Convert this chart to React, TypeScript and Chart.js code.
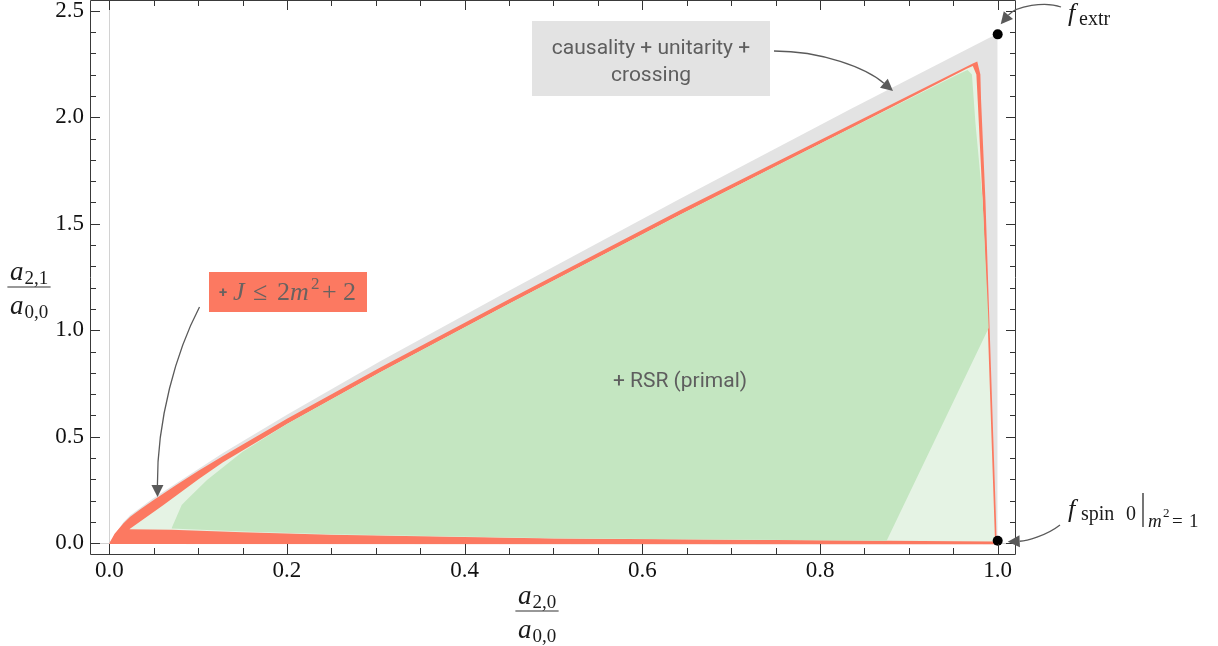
import React, { useEffect, useRef } from "react";
import { Chart, registerables } from "chart.js";

Chart.register(...registerables);

// ---------------- data ----------------
const X_MIN = -0.0217;
const X_MAX = 1.0206;
const Y_MIN = -0.0502;
const Y_MAX = 2.5502;

// gray region: causality + unitarity + crossing
const grayUpperX = [0, 0.016, 0.0236, 0.05, 0.128, 0.2, 0.305, 0.45, 0.643, 0.834, 0.989, 1.0];
const grayUpperY = [0, 0.1, 0.132, 0.213, 0.424, 0.603, 0.854, 1.185, 1.619, 2.037, 2.37, 2.392];
const grayLowerX = [0, 1.0];
const grayLowerY = [-0.003, -0.005];

// red region: + J <= 2m^2 + 2
const redUpperX = [0, 0.006, 0.016, 0.0236, 0.035, 0.05, 0.075, 0.1, 0.128, 0.2, 0.305, 0.45, 0.643, 0.834, 0.972, 0.977, 0.9805, 0.9813, 0.9862, 0.991, 0.995, 0.999];
const redUpperY = [0, 0.045, 0.094, 0.125, 0.16, 0.203, 0.272, 0.339, 0.41, 0.585, 0.825, 1.145, 1.564, 1.963, 2.252, 2.262, 2.2, 2.08, 1.611, 1.0, 0.5, -0.005];
const redLowerX = [0, 0.999];
const redLowerY = [-0.003, -0.005];

// light green region
const lightUpperX = [0.0225, 0.061, 0.1, 0.128, 0.2, 0.305, 0.45, 0.643, 0.834, 0.965, 0.972, 0.976, 0.9775, 0.983, 0.989, 0.993, 0.997];
const lightUpperY = [0.066, 0.18, 0.3, 0.38, 0.56, 0.803, 1.124, 1.543, 1.947, 2.228, 2.24, 2.2, 2.08, 1.611, 1.0, 0.5, 0.01];
const lightLowerX = [0.0225, 0.07, 0.15, 0.25, 0.5, 0.875, 0.997];
const lightLowerY = [0.066, 0.064, 0.052, 0.04, 0.022, 0.012, 0.008];

// dark green region: + RSR (primal)
const darkUpperX = [0.07, 0.0815, 0.087, 0.11, 0.15, 0.2, 0.305, 0.45, 0.643, 0.834, 0.955, 0.966, 0.971, 0.975, 0.983, 0.99];
const darkUpperY = [0.07, 0.18, 0.203, 0.297, 0.43, 0.56, 0.803, 1.124, 1.543, 1.947, 2.2, 2.222, 2.2, 1.971, 1.611, 1.012];
const darkLowerX = [0.07, 0.15, 0.25, 0.5, 0.875, 0.99];
const darkLowerY = [0.07, 0.055, 0.042, 0.024, 0.012, 1.012];

// special points: f_extr, f_spin0
const pointX = [1.0, 1.0];
const pointY = [2.389, 0.012];

// ticks
const xMajorStep = 0.2;
const yMajorStep = 0.5;
const xMinorStep = 0.05;
const yMinorStep = 0.1;

// ---------------- styles ----------------
const GRAY = "#e3e3e3";
const RED = "#fc7961";
const LIGHT = "#e5f3e4";
const DARK = "#c4e6c1";
const SERIF = '"Liberation Serif", "DejaVu Serif", serif';
const SANS = 'Roboto, "Liberation Sans", sans-serif';

const pts = (xs: number[], ys: number[]) => xs.map((x, i) => ({ x, y: ys[i] }));

type Run = { t: string; f: string; dy?: number; dx?: number };

function runsWidth(ctx: CanvasRenderingContext2D, runs: Run[]) {
  let w = 0;
  for (const r of runs) {
    ctx.font = r.f;
    w += ctx.measureText(r.t).width + (r.dx || 0);
  }
  return w;
}
function drawRuns(ctx: CanvasRenderingContext2D, x: number, base: number, runs: Run[]) {
  let cx = x;
  for (const r of runs) {
    ctx.font = r.f;
    cx += r.dx || 0;
    ctx.fillText(r.t, cx, base + (r.dy || 0));
    cx += ctx.measureText(r.t).width;
  }
  return cx;
}
function drawFrac(ctx: CanvasRenderingContext2D, cx: number, ly: number, num: Run[], den: Run[]) {
  const wn = runsWidth(ctx, num);
  const wd = runsWidth(ctx, den);
  const w = Math.max(wn, wd) + 5;
  ctx.fillStyle = "#1a1a1a";
  drawRuns(ctx, cx - wn / 2, ly - 7, num);
  drawRuns(ctx, cx - wd / 2, ly + 27, den);
  ctx.strokeStyle = "#333";
  ctx.lineWidth = 1.2;
  ctx.beginPath();
  ctx.moveTo(cx - w / 2, ly);
  ctx.lineTo(cx + w / 2, ly);
  ctx.stroke();
}
function drawArrow(
  ctx: CanvasRenderingContext2D,
  p0: number[],
  c1: number[],
  c2: number[],
  p1: number[]
) {
  const ang = Math.atan2(p1[1] - c2[1], p1[0] - c2[0]);
  const L = 12;
  const W = 6;
  const bx = p1[0] - L * Math.cos(ang);
  const by = p1[1] - L * Math.sin(ang);
  ctx.strokeStyle = "#5a5a5a";
  ctx.fillStyle = "#5a5a5a";
  ctx.lineWidth = 1.3;
  ctx.beginPath();
  ctx.moveTo(p0[0], p0[1]);
  ctx.bezierCurveTo(c1[0], c1[1], c2[0], c2[1], bx, by);
  ctx.stroke();
  ctx.beginPath();
  ctx.moveTo(p1[0], p1[1]);
  ctx.lineTo(bx - W * Math.sin(ang), by + W * Math.cos(ang));
  ctx.lineTo(bx + W * Math.sin(ang), by - W * Math.cos(ang));
  ctx.closePath();
  ctx.fill();
}

const framePlugin = {
  id: "frame",
  beforeDatasetsDraw(chart: any) {
    const { ctx, chartArea: a, scales } = chart;
    const xs = scales.x;
    const ys = scales.y;
    ctx.save();
    ctx.strokeStyle = "#d2d2d2";
    ctx.lineWidth = 1;
    const x0 = Math.round(xs.getPixelForValue(0)) + 0.5;
    ctx.beginPath();
    ctx.moveTo(x0, a.top);
    ctx.lineTo(x0, a.bottom);
    ctx.stroke();
    const y0 = Math.round(ys.getPixelForValue(0)) + 0.5;
    ctx.beginPath();
    ctx.moveTo(a.left, y0);
    ctx.lineTo(a.right, y0);
    ctx.stroke();
    ctx.restore();
  },
  afterDatasetsDraw(chart: any) {
    const { ctx, chartArea: a, scales } = chart;
    const xs = scales.x;
    const ys = scales.y;
    ctx.save();
    // ticks (inward, all four sides)
    ctx.strokeStyle = "#333";
    ctx.lineWidth = 1;
    const nx = Math.round(1 / xMinorStep);
    const perX = Math.round(xMajorStep / xMinorStep);
    for (let i = 0; i <= nx; i++) {
      const px = Math.round(xs.getPixelForValue(i * xMinorStep)) + 0.5;
      const len = i % perX === 0 ? 10 : 6;
      ctx.beginPath();
      ctx.moveTo(px, a.bottom);
      ctx.lineTo(px, a.bottom - len);
      ctx.moveTo(px, a.top);
      ctx.lineTo(px, a.top + len);
      ctx.stroke();
    }
    const ny = Math.round(2.5 / yMinorStep);
    const perY = Math.round(yMajorStep / yMinorStep);
    for (let i = 0; i <= ny; i++) {
      const py = Math.round(ys.getPixelForValue(i * yMinorStep)) + 0.5;
      const len = i % perY === 0 ? 10 : 6;
      ctx.beginPath();
      ctx.moveTo(a.left, py);
      ctx.lineTo(a.left + len, py);
      ctx.moveTo(a.right, py);
      ctx.lineTo(a.right - len, py);
      ctx.stroke();
    }
    // frame
    ctx.strokeStyle = "#3a3a3a";
    ctx.beginPath();
    ctx.rect(a.left + 0.5, a.top + 0.5, a.right - a.left - 1, a.bottom - a.top);
    ctx.stroke();

    ctx.textAlign = "left";
    ctx.textBaseline = "alphabetic";

    // gray annotation box
    ctx.fillStyle = GRAY;
    ctx.fillRect(532, 21, 238, 75);
    ctx.fillStyle = "#5e5e5e";
    ctx.font = `21px ${SANS}`;
    ctx.textAlign = "center";
    ctx.fillText("causality + unitarity +", 651, 54);
    ctx.fillText("crossing", 651, 81);
    ctx.fillText("+ RSR (primal)", 680, 387);
    ctx.textAlign = "left";
    drawArrow(ctx, [774, 51], [822, 51], [866, 68], [893, 91]);

    // red annotation box
    ctx.fillStyle = RED;
    ctx.fillRect(209, 272, 158, 40);
    ctx.fillStyle = "#6a6260";
    ctx.font = `bold 15px ${SANS}`;
    ctx.fillText("+", 219, 297);
    ctx.font = `italic 26px ${SERIF}`;
    ctx.fillText("J", 233, 300);
    ctx.font = `26px ${SERIF}`;
    ctx.fillText("\u2264", 253, 300);
    ctx.fillText("2", 277, 300);
    ctx.font = `italic 26px ${SERIF}`;
    ctx.fillText("m", 290, 300);
    ctx.font = `17px ${SERIF}`;
    ctx.fillText("2", 311, 289);
    ctx.font = `26px ${SERIF}`;
    ctx.fillText("+", 322, 300);
    ctx.fillText("2", 343, 300);
    drawArrow(ctx, [199.5, 307], [176, 352], [157, 420], [157.5, 497]);

    // f_extr
    const pxe = xs.getPixelForValue(pointX[0]);
    const pye = ys.getPixelForValue(pointY[0]);
    drawArrow(ctx, [1061, 7], [1045, 1], [1016, 6], [pxe + 3, pye - 10]);
    ctx.fillStyle = "#1a1a1a";
    ctx.font = `italic 26px ${SERIF}`;
    ctx.fillText("f", 1068, 21);
    ctx.font = `20px ${SERIF}`;
    ctx.fillText("extr", 1079, 25);

    // f_spin0
    const pxs = xs.getPixelForValue(pointX[1]);
    const pys = ys.getPixelForValue(pointY[1]);
    drawArrow(ctx, [1060, 525], [1046, 536], [1026, 541], [pxs + 10, pys + 1]);
    ctx.fillStyle = "#1a1a1a";
    ctx.font = `italic 26px ${SERIF}`;
    ctx.fillText("f", 1068, 517);
    ctx.font = `20px ${SERIF}`;
    ctx.fillText("spin", 1081, 520);
    ctx.fillText("0", 1126, 520);
    ctx.strokeStyle = "#1a1a1a";
    ctx.lineWidth = 1.2;
    ctx.beginPath();
    ctx.moveTo(1143, 493);
    ctx.lineTo(1143, 527);
    ctx.stroke();
    ctx.font = `italic 19px ${SERIF}`;
    ctx.fillText("m", 1148, 527);
    ctx.font = `13px ${SERIF}`;
    ctx.fillText("2", 1163, 517);
    ctx.font = `19px ${SERIF}`;
    ctx.fillText("=", 1172, 527);
    ctx.fillText("1", 1189, 527);

    // axis titles
    const main = `italic 27px ${SERIF}`;
    const sub = `19px ${SERIF}`;
    drawFrac(
      ctx,
      29,
      287,
      [{ t: "a", f: main }, { t: "2,1", f: sub, dy: 4, dx: 1 }],
      [{ t: "a", f: main }, { t: "0,0", f: sub, dy: 4, dx: 1 }]
    );
    drawFrac(
      ctx,
      537,
      611,
      [{ t: "a", f: main }, { t: "2,0", f: sub, dy: 4, dx: 1 }],
      [{ t: "a", f: main }, { t: "0,0", f: sub, dy: 4, dx: 1 }]
    );
    ctx.restore();
  },
};

export default function App() {
  const ref = useRef<HTMLCanvasElement | null>(null);
  useEffect(() => {
    if (!ref.current) return;
    const area = (data: any, color: string, target: number, order: number) => ({
      data,
      backgroundColor: color,
      borderColor: "transparent",
      borderWidth: 0,
      pointRadius: 0,
      fill: { target, above: color, below: color },
      order,
    });
    const edge = (data: any, order: number) => ({
      data,
      borderColor: "transparent",
      backgroundColor: "transparent",
      borderWidth: 0,
      pointRadius: 0,
      fill: false,
      order,
    });
    const tickFont = { family: SERIF, size: 23 };
    const chart = new Chart(ref.current, {
      type: "line",
      data: {
        datasets: [
          area(pts(grayUpperX, grayUpperY), GRAY, 1, 10),
          edge(pts(grayLowerX, grayLowerY), 11),
          area(pts(redUpperX, redUpperY), RED, 3, 8),
          edge(pts(redLowerX, redLowerY), 9),
          area(pts(lightUpperX, lightUpperY), LIGHT, 5, 6),
          edge(pts(lightLowerX, lightLowerY), 7),
          area(pts(darkUpperX, darkUpperY), DARK, 7, 4),
          edge(pts(darkLowerX, darkLowerY), 5),
          {
            data: pts(pointX, pointY),
            showLine: false,
            pointRadius: 5,
            pointBackgroundColor: "#000",
            pointBorderWidth: 0,
            borderColor: "transparent",
            fill: false,
            order: 0,
          } as any,
        ] as any,
      },
      options: {
        responsive: false,
        animation: false,
        devicePixelRatio: 1,
        events: [],
        layout: { autoPadding: false, padding: { left: 0, right: 202, top: 0, bottom: 0 } },
        plugins: {
          legend: { display: false },
          tooltip: { enabled: false },
        },
        elements: { line: { tension: 0 } },
        scales: {
          x: {
            type: "linear",
            min: X_MIN,
            max: X_MAX,
            grid: { display: false, drawTicks: false },
            border: { display: false },
            afterFit: (s: any) => {
              s.height = 92;
              s.paddingLeft = 0;
              s.paddingRight = 0;
              s.paddingTop = 0;
              s.paddingBottom = 0;
            },
            ticks: {
              stepSize: xMajorStep,
              includeBounds: false,
              autoSkip: false,
              maxRotation: 0,
              padding: 3,
              color: "#111",
              font: tickFont,
              callback: (v: any) => Number(v).toFixed(1),
            },
          },
          y: {
            type: "linear",
            min: Y_MIN,
            max: Y_MAX,
            grid: { display: false, drawTicks: false },
            border: { display: false },
            afterFit: (s: any) => {
              s.width = 90;
              s.paddingTop = 0;
              s.paddingBottom = 0;
              s.paddingLeft = 0;
              s.paddingRight = 0;
            },
            ticks: {
              stepSize: yMajorStep,
              includeBounds: false,
              autoSkip: false,
              padding: 6,
              color: "#111",
              font: tickFont,
              callback: (v: any) => Number(v).toFixed(1),
            },
          },
        },
      } as any,
      plugins: [framePlugin],
    });
    return () => chart.destroy();
  }, []);
  return (
    <div style={{ position: "fixed", left: 0, top: 0, width: 1218, height: 646, background: "#fff" }}>
      <canvas ref={ref} width={1218} height={646} />
    </div>
  );
}
